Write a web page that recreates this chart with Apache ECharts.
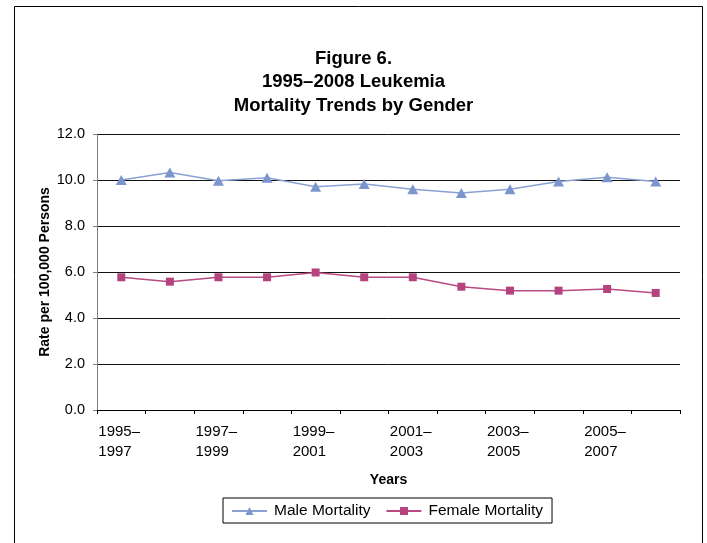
<!DOCTYPE html>
<html>
<head>
<meta charset="utf-8">
<script src="https://cdn.jsdelivr.net/npm/echarts@6/dist/echarts.min.js"></script>
<style>
html,body{margin:0;padding:0;background:#fff;}
#c{width:707px;height:543px;}
</style>
</head>
<body>
<div id="c"></div>
<script>
const categories = ["1995–1997","1996–1998","1997–1999","1998–2000","1999–2001","2000–2002","2001–2003","2002–2004","2003–2005","2004–2006","2005–2007","2006–2008"];
const maleMortality = [10.0, 10.33, 9.97, 10.1, 9.71, 9.83, 9.6, 9.43, 9.6, 9.93, 10.12, 9.94];
const femaleMortality = [5.77, 5.58, 5.77, 5.77, 5.98, 5.77, 5.77, 5.36, 5.19, 5.19, 5.26, 5.09];
const seriesNames = ["Male Mortality", "Female Mortality"];
const titleLines = ["Figure 6.", "1995–2008 Leukemia", "Mortality Trends by Gender"];
const yAxisTitle = "Rate per 100,000 Persons";
const xAxisTitle = "Years";

const FONT = "'Liberation Sans', Arial, sans-serif";
const chart = echarts.init(document.getElementById('c'), null, {renderer: 'canvas'});
chart.setOption({
  animation: false,
  backgroundColor: '#fff',
  graphic: [{
    type: 'rect', left: 12, top: 4, silent: true,
    shape: {width: 688, height: 600},
    style: {fill: 'none', stroke: '#000', lineWidth: 1}
  }],
  title: {
    text: titleLines.join('\n'),
    left: 'center', top: 42,
    textStyle: {fontFamily: FONT, fontSize: 18.5, fontWeight: 'bold', color: '#000', lineHeight: 23.5}
  },
  grid: {left: 97, right: 27, top: 134, bottom: 133, containLabel: false},
  legend: {
    data: seriesNames,
    left: 223, top: 498,
    itemWidth: 35, itemHeight: 10, itemGap: 15,
    padding: [5, 9, 4, 8],
    borderColor: '#000', borderWidth: 1,
    textStyle: {fontFamily: FONT, fontSize: 15.5, color: '#000', padding: [0, 0, 0, 2]}
  },
  xAxis: {
    type: 'category',
    data: categories,
    boundaryGap: true,
    name: xAxisTitle,
    nameLocation: 'middle',
    nameGap: 63,
    nameMoveOverlap: false,
    nameTextStyle: {fontFamily: FONT, fontSize: 14, fontWeight: 'bold', color: '#000'},
    axisLine: {lineStyle: {color: '#000', width: 1}},
    axisTick: {show: true, interval: 0, length: 4, lineStyle: {color: '#000'}},
    axisLabel: {
      interval: 1,
      margin: 12,
      fontFamily: FONT, fontSize: 15, color: '#000', lineHeight: 20,
      formatter: function (v) {
        const p = v.split('–');
        return '{a|' + p[0] + '–}\n{a|' + p[1] + '}';
      },
      rich: {a: {width: 46, align: 'left', fontFamily: FONT, fontSize: 15, color: '#000', lineHeight: 20}}
    },
    splitLine: {show: false}
  },
  yAxis: {
    type: 'value',
    min: 0, max: 12, interval: 2,
    name: yAxisTitle,
    nameLocation: 'middle',
    nameGap: 45,
    nameMoveOverlap: false,
    nameTextStyle: {fontFamily: FONT, fontSize: 14, fontWeight: 'bold', color: '#000'},
    axisLine: {show: true, lineStyle: {color: '#808080', width: 1}},
    axisTick: {show: true, length: 4, lineStyle: {color: '#808080'}},
    axisLabel: {
      margin: 12,
      fontFamily: FONT, fontSize: 14.5, color: '#000',
      formatter: function (v) { return v.toFixed(1); }
    },
    splitLine: {show: true, lineStyle: {color: '#111', width: 1}}
  },
  series: [
    {
      name: seriesNames[0], type: 'line', data: maleMortality,
      symbol: 'triangle', symbolSize: [11, 10],
      lineStyle: {color: '#8aa1d4', width: 1.5},
      itemStyle: {color: '#7b96cc', borderWidth: 0}
    },
    {
      name: seriesNames[1], type: 'line', data: femaleMortality,
      symbol: 'rect', symbolSize: 8,
      lineStyle: {color: '#b94a82', width: 1.5},
      itemStyle: {color: '#b5437e', borderWidth: 0}
    }
  ]
});
</script>
</body>
</html>
